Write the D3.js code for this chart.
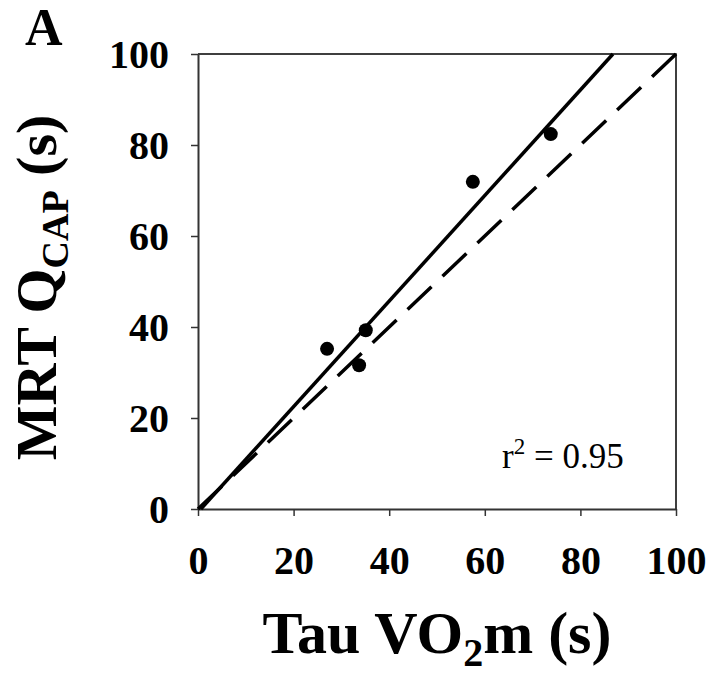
<!DOCTYPE html>
<html>
<head>
<meta charset="utf-8">
<script src="https://cdn.jsdelivr.net/npm/d3@7"></script>
<style>
  body { margin: 0; background: #fff; }
  text { font-family: "Liberation Serif", "Times New Roman", serif; }
</style>
</head>
<body>
<script>
const width = 712;
const height = 675;
const margin = { top: 54, right: 36, bottom: 166, left: 198 };

// data
const tauVO2 = [27.0, 33.7, 35.1, 57.5, 73.8];
const mrtQcap = [35.2, 31.6, 39.3, 71.9, 82.4];
const xTicks = [0, 20, 40, 60, 80, 100];
const yTicks = [0, 20, 40, 60, 80, 100];
// fitted line (solid) and line of identity (dashed)
const fitSlope = 1.16;
const fitIntercept = -0.7;
const identity = [[0, 0], [100, 100]];

const svg = d3.select("body")
    .append("svg")
    .attr("width", width)
    .attr("height", height);

let xScale = d3.scaleLinear()
    .domain([0, 100])
    .range([margin.left, width - margin.right]);

let yScale = d3.scaleLinear()
    .domain([0, 100])
    .range([height - margin.bottom, margin.top]);

// frame (top + right)
svg.append("path")
    .attr("d", `M${xScale(0)},${yScale(100)}H${xScale(100)}V${yScale(0)}`)
    .attr("fill", "none")
    .attr("stroke", "#000")
    .attr("stroke-width", 1.5);

let xAxis = d3.axisBottom(xScale).tickValues(xTicks).tickSize(7).tickSizeOuter(0).tickFormat(d3.format("d"));
let yAxis = d3.axisLeft(yScale).tickValues(yTicks).tickSize(7).tickSizeOuter(0).tickFormat(d3.format("d"));

let gx = svg.append("g")
    .attr("transform", `translate(0, ${yScale(0)})`)
    .call(xAxis);
let gy = svg.append("g")
    .attr("transform", `translate(${xScale(0)}, 0)`)
    .call(yAxis);

[gx, gy].forEach(g => {
    g.attr("font-family", null);
    g.select(".domain").attr("stroke", "#333").attr("stroke-width", 2);
    g.selectAll(".tick line").attr("stroke", "#333").attr("stroke-width", 1.5);
    g.selectAll(".tick text")
        .attr("fill", "#000")
        .style("font-family", '"Liberation Serif", serif')
        .style("font-size", "40px")
        .style("font-weight", "bold");
});
gx.selectAll(".tick text").attr("y", 37).attr("dy", "0.71em");
gy.selectAll(".tick text").attr("x", -29).attr("dy", "0.34em");

// dashed identity line, dash pattern fitted so it ends on a dash at the corner
let idPath = svg.append("path")
    .datum(identity)
    .attr("d", d3.line().x(d => xScale(d[0])).y(d => yScale(d[1])))
    .attr("fill", "none")
    .attr("stroke", "#000")
    .attr("stroke-width", 3.5);
let idLen = idPath.node().getTotalLength();
let dash = 33;
let gap = (idLen - dash) / 13 - dash;
idPath.attr("stroke-dasharray", `${dash},${gap}`);

// solid regression line
let x0 = -fitIntercept / fitSlope;
let x1 = (100 - fitIntercept) / fitSlope;
svg.append("path")
    .datum([[x0, 0], [x1, 100]])
    .attr("d", d3.line().x(d => xScale(d[0])).y(d => yScale(d[1])))
    .attr("fill", "none")
    .attr("stroke", "#000")
    .attr("stroke-width", 3.5);

// points
svg.selectAll("circle")
    .data(tauVO2)
    .enter()
    .append("circle")
    .attr("cx", d => xScale(d))
    .attr("cy", (d, i) => yScale(mrtQcap[i]))
    .attr("r", 7)
    .attr("fill", "#000");

// r squared
let r2 = svg.append("text")
    .attr("x", 502)
    .attr("y", 468)
    .style("font-size", "35px");
r2.append("tspan").text("r");
r2.append("tspan").attr("dy", -14).style("font-size", "23px").text("2");
r2.append("tspan").attr("dy", 14).text(" = 0.95");

// panel letter
svg.append("text")
    .attr("x", 25)
    .attr("y", 45)
    .style("font-size", "52px")
    .style("font-weight", "bold")
    .text("A");

// x title
let xt = svg.append("text")
    .attr("x", (xScale(0) + xScale(100)) / 2)
    .attr("y", 653)
    .attr("text-anchor", "middle")
    .style("font-size", "60px")
    .style("font-weight", "bold");
xt.append("tspan").text("Tau VO");
xt.append("tspan").attr("dy", 13).style("font-size", "40px").text("2");
xt.append("tspan").attr("dy", -13).text("m (s)");

// y title
let yt = svg.append("text")
    .attr("transform", `translate(56, ${(yScale(0) + yScale(100)) / 2 + 6}) rotate(-90)`)
    .attr("text-anchor", "middle")
    .style("font-size", "58px")
    .style("font-weight", "bold");
yt.append("tspan").text("MRT Q");
yt.append("tspan").attr("dy", 12).style("font-size", "38px").text("CAP");
yt.append("tspan").attr("dy", -12).text(" (s)");
</script>
</body>
</html>
